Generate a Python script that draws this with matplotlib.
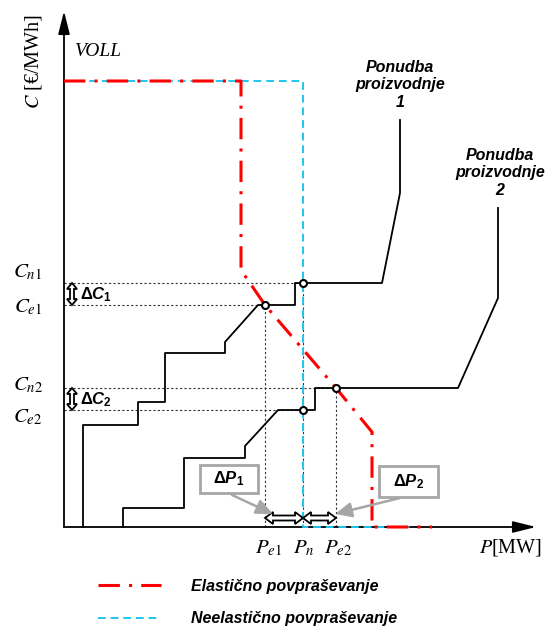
import matplotlib
matplotlib.use('Agg')
import numpy as np
import matplotlib.pyplot as plt
from matplotlib.patches import Polygon, Rectangle
from matplotlib.lines import Line2D

# vrednosti sheme (P v MW, C v EUR/MWh, poljubne enote)
VOLL = 446
C_n1, C_e1, C_n2, C_e2 = 244, 222, 139, 117
P_e1, P_n, P_e2 = 201, 239, 272

# elasticno povprasevanje
P_elastic = [0, 177, 177, 201, 272, 308, 308, 368]
C_elastic = [446, 446, 257, 222, 139, 95, 0, 0]

# neelasticno povprasevanje
P_inelastic = [0, 239, 239, 346]
C_inelastic = [446, 446, 0, 0]

# ponudba proizvodnje 1 in 2
P_supply1 = [19, 19, 74, 74, 101, 101, 161, 161, 194, 231, 231, 318, 336, 336]
C_supply1 = [0, 102, 102, 125, 125, 174, 174, 185, 222, 222, 244, 244, 334, 407]
P_supply2 = [59, 59, 120, 120, 181, 181, 214, 251, 251, 394, 434, 434]
C_supply2 = [0, 19, 19, 69, 69, 81, 117, 117, 139, 139, 229, 319]

# presecisca
P_points = [P_n, P_e1, P_e2, P_n]
C_points = [C_n1, C_e1, C_n2, C_e2]

plt.rcParams['mathtext.fontset'] = 'custom'
plt.rcParams['mathtext.rm'] = 'Liberation Sans:bold'
plt.rcParams['mathtext.it'] = 'Liberation Sans:bold:italic'
plt.rcParams['mathtext.bf'] = 'Liberation Sans:bold'


def double_arrow(a, b, head_len, head_w, tail_w):
    # obrisna dvojna puscica (1 enota = 1 piksel)
    a, b = np.array(a, float), np.array(b, float)
    d = (b - a) / np.linalg.norm(b - a)
    n = np.array([-d[1], d[0]])
    pts = [a,
           a + d * head_len + n * head_w,
           a + d * head_len + n * tail_w,
           b - d * head_len + n * tail_w,
           b - d * head_len + n * head_w,
           b,
           b - d * head_len - n * head_w,
           b - d * head_len - n * tail_w,
           a + d * head_len - n * tail_w,
           a + d * head_len - n * head_w]
    return Polygon(pts, closed=True, fc='white', ec='k', lw=1.3, zorder=6)


fig = plt.figure(figsize=(5.52, 6.31), dpi=100)
ax = fig.add_axes([0, 0, 1, 1])
ax.set_xlim(-64, 488)
ax.set_ylim(-104, 527)
ax.axis('off')

# osi
ax.annotate('', xy=(0, 516), xytext=(0, 0),
            arrowprops=dict(arrowstyle='-|>,head_length=1.4,head_width=0.35', lw=1.3, color='k',
                            shrinkA=0, shrinkB=0))
ax.annotate('', xy=(472, 0), xytext=(0, 0),
            arrowprops=dict(arrowstyle='-|>,head_length=1.4,head_width=0.35', lw=1.3, color='k',
                            shrinkA=0, shrinkB=0))

# krivulje
ax.plot(P_inelastic, C_inelastic, color='#1fc6f0', lw=1.4, ls=(0, (4, 2.5)), zorder=3)
ax.plot(P_elastic, C_elastic, color='#ff0000', lw=2.2, ls=(0, (7, 3, 1, 3)), zorder=4)
ax.plot(P_supply1, C_supply1, color='k', lw=1.3, zorder=5)
ax.plot(P_supply2, C_supply2, color='k', lw=1.3, zorder=5)

# pomozne crte
dot = dict(color='#333333', lw=0.8, ls=(0, (2, 2)), zorder=2)
for p, c in zip(P_points, C_points):
    ax.plot([0, p], [c, c], **dot)
for p, c in zip([P_e1, P_n, P_e2], [C_e1, C_n1, C_n2]):
    ax.plot([p, p], [0, c], **dot)

ax.plot(P_points, C_points, 'o', ms=5, mfc='white', mec='k', mew=1.5, zorder=6)

# oznake na oseh
ctext = dict(fontsize=15, math_fontfamily='stix', ha='center', va='center')
ax.text(-36, 255, r'$C_{n1}$', **ctext)
ax.text(-36, 220, r'$C_{e1}$', **ctext)
ax.text(-36, 142, r'$C_{n2}$', **ctext)
ax.text(-36, 110, r'$C_{e2}$', **ctext)
ax.text(P_e1 + 4, -21, r'$P_{e1}$', **ctext)
ax.text(P_n + 1, -21, r'$P_{n}$', **ctext)
ax.text(P_e2 + 2, -21, r'$P_{e2}$', **ctext)
ax.text(447, -21, r'$P$[MW]', fontsize=14.5, family='Liberation Serif', math_fontfamily='stix',
        ha='center', va='center')
ax.text(-31, 466, r'$C$ [€/MWh]', fontsize=14.5, family='Liberation Serif', math_fontfamily='stix',
        ha='center', va='center', rotation=90)
ax.text(11, 476, 'VOLL', fontsize=14, family='Liberation Serif', style='italic',
        ha='left', va='center')

lab = dict(fontsize=11.5, family='Liberation Sans', weight='bold', style='italic',
           ha='center', va='center', linespacing=1.2)
ax.text(336, 442, 'Ponudba\nproizvodnje\n1', **lab)
ax.text(436, 354, 'Ponudba\nproizvodnje\n2', **lab)

# razlike cen
for c_top, c_bot, txt in [(C_n1, C_e1, r'$\Delta C_1$'), (C_n2, C_e2, r'$\Delta C_2$')]:
    ax.add_patch(double_arrow((8, c_bot), (8, c_top), 6, 5, 2))
    ax.text(16, (c_top + c_bot) / 2 - 1, txt, fontsize=12, ha='left', va='center')

# razlike moci
for p0, p1 in [(P_e1, P_n), (P_n, P_e2)]:
    ax.add_patch(double_arrow((p0, 9), (p1, 9), 8, 6, 2.5))

for x0, x1, y0, y1, txt, start, end in [(136, 194, 34, 62, r'$\Delta P_1$', (168, 32), (209, 13)),
                                        (315, 374, 30, 61, r'$\Delta P_2$', (336, 29), (271, 13))]:
    ax.add_patch(Rectangle((x0, y0), x1 - x0, y1 - y0, fc='white', ec='#a6a6a6', lw=2, zorder=6))
    ax.text((x0 + x1) / 2, (y0 + y1) / 2, txt, fontsize=12, ha='center', va='center', zorder=7)
    ax.annotate('', xy=end, xytext=start,
                arrowprops=dict(arrowstyle='-|>,head_length=1.0,head_width=0.45', lw=1.8,
                                color='#a6a6a6', shrinkA=0, shrinkB=0), zorder=7)

# legenda
handles = [Line2D([], [], color='#ff0000', lw=2.2, ls=(0, (7, 3, 1, 3))),
           Line2D([], [], color='#1fc6f0', lw=1.4, ls=(0, (4, 2.5)))]
leg = ax.legend(handles, ['Elastično povpraševanje', 'Neelastično povpraševanje'],
                loc='upper left', bbox_to_anchor=(0.178, 0.083), frameon=False,
                handlelength=3.9, handletextpad=1.9, labelspacing=1.1, borderpad=0,
                borderaxespad=0, prop=dict(family='Liberation Sans', weight='bold',
                                           style='italic', size=11.5))

fig.savefig('out.png', dpi=100)
